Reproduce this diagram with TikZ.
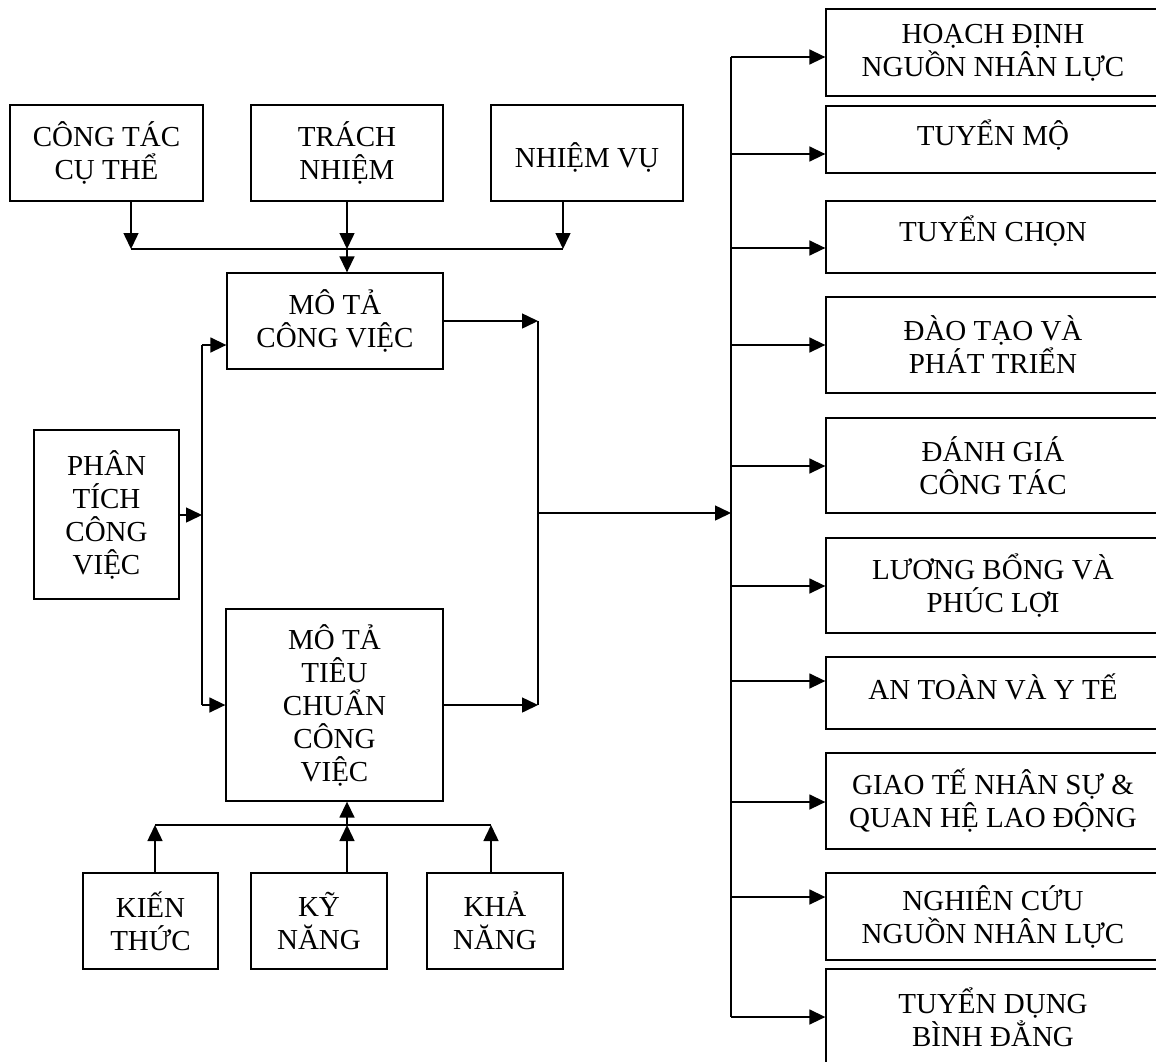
\documentclass[tikz,border=0pt]{standalone}
\usepackage{fontspec}
\setmainfont{Liberation Serif}
\usetikzlibrary{arrows.meta}
\tikzset{
  box/.style={draw, line width=1.3pt, align=center, inner sep=0pt,
    font=\fontsize{29}{33}\selectfont},
  conn/.style={line width=1.5pt},
  arr/.style={line width=1.5pt, -{Triangle[length=16pt,width=15pt]}}
}
\newcommand{\shiftup}[2]{\raisebox{#1}[\height][\depth]{#2}}
\begin{document}
\begin{tikzpicture}[x=1pt,y=-1pt]
\useasboundingbox (0,0) rectangle (1156,1061);
% top inputs
\node[box, minimum width=193pt, minimum height=96pt] (ct) at (106.5,153) {CÔNG TÁC\\CỤ THỂ};
\node[box, minimum width=192pt, minimum height=96pt] (tn) at (347,153) {TRÁCH\\NHIỆM};
\node[box, minimum width=192pt, minimum height=96pt] (nv) at (587,153) {\shiftup{-4pt}{NHIỆM VỤ}};
% middle
\node[box, minimum width=216pt, minimum height=96pt] (mt) at (335,321) {MÔ TẢ\\CÔNG VIỆC};
\node[box, minimum width=145pt, minimum height=169pt] (pt) at (106.5,514.5) {PHÂN\\TÍCH\\CÔNG\\VIỆC};
\node[box, minimum width=217pt, minimum height=192pt] (tc) at (334.5,705) {MÔ TẢ\\TIÊU\\CHUẨN\\CÔNG\\VIỆC};
% bottom inputs
\node[box, minimum width=135pt, minimum height=96pt] (kt) at (150.5,921) {KIẾN\\THỨC};
\node[box, minimum width=136pt, minimum height=96pt] (kn) at (319,921) {KỸ\\NĂNG};
\node[box, minimum width=136pt, minimum height=96pt] (kh) at (495,921) {KHẢ\\NĂNG};
% right column
\node[box, minimum width=334pt, minimum height=87pt] (r1) at (993,52.5) {HOẠCH ĐỊNH\\NGUỒN NHÂN LỰC};
\node[box, minimum width=334pt, minimum height=67pt] (r2) at (993,139.5) {\shiftup{4pt}{TUYỂN MỘ}};
\node[box, minimum width=334pt, minimum height=72pt] (r3) at (993,237) {\shiftup{6pt}{TUYỂN CHỌN}};
\node[box, minimum width=334pt, minimum height=96pt] (r4) at (993,345) {ĐÀO TẠO VÀ\\PHÁT TRIỂN};
\node[box, minimum width=334pt, minimum height=95pt] (r5) at (993,465.5) {ĐÁNH GIÁ\\CÔNG TÁC};
\node[box, minimum width=334pt, minimum height=95pt] (r6) at (993,585.5) {LƯƠNG BỔNG VÀ\\PHÚC LỢI};
\node[box, minimum width=334pt, minimum height=72pt] (r7) at (993,693) {\shiftup{6pt}{AN TOÀN VÀ Y TẾ}};
\node[box, minimum width=334pt, minimum height=96pt] (r8) at (993,801) {GIAO TẾ NHÂN SỰ \&\\QUAN HỆ LAO ĐỘNG};
\node[box, minimum width=334pt, minimum height=87pt] (r9) at (993,916.5) {NGHIÊN CỨU\\NGUỒN NHÂN LỰC};
\node[box, minimum width=334pt, minimum height=96pt] (r10) at (993,1017) {TUYỂN DỤNG\\BÌNH ĐẲNG};

% top bus
\coordinate (tb1) at (131,249);
\coordinate (tb2) at (347,249);
\coordinate (tb3) at (563,249);
\draw[arr] (ct.south -| tb1) -- (tb1);
\draw[arr] (tn.south -| tb2) -- (tb2);
\draw[arr] (nv.south -| tb3) -- (tb3);
\draw[conn] (tb1) -- (tb3);
\draw[arr] (tb2) -- (tb2 |- mt.north);

% left bus
\coordinate (lb1) at (202,345);
\coordinate (lb2) at (202,515);
\coordinate (lb3) at (202,705);
\draw[conn] (lb1) -- (lb3);
\draw[arr] (pt.east |- lb2) -- (lb2);
\draw[arr] (lb1) -- (lb1 -| mt.west);
\draw[arr] (lb3) -- (tc.west);

% bottom bus
\coordinate (bb1) at (155,825);
\coordinate (bb2) at (347,825);
\coordinate (bb3) at (491,825);
\draw[arr] (kt.north -| bb1) -- (bb1);
\draw[arr] (kn.north -| bb2) -- (bb2);
\draw[arr] (kh.north -| bb3) -- (bb3);
\draw[conn] (bb1) -- (bb3);
\draw[arr] (bb2) -- (tc.south -| bb2);

% middle right bus
\coordinate (mb1) at (538,321);
\coordinate (mb2) at (538,513);
\coordinate (mb3) at (538,705);
\draw[arr] (mt.east) -- (mb1);
\draw[arr] (tc.east) -- (mb3);
\draw[conn] (mb1) -- (mb3);
\coordinate (rb) at (731,513);
\draw[arr] (mb2) -- (rb);

% right bus
\coordinate (j1) at (731,57);
\coordinate (j2) at (731,154);
\coordinate (j3) at (731,248);
\coordinate (j4) at (731,345);
\coordinate (j5) at (731,466);
\coordinate (j6) at (731,586);
\coordinate (j7) at (731,681);
\coordinate (j8) at (731,802);
\coordinate (j9) at (731,897);
\coordinate (j10) at (731,1017);
\draw[conn] (j1) -- (j10);
\draw[arr] (j1) -- (j1 -| r1.west);
\draw[arr] (j2) -- (j2 -| r2.west);
\draw[arr] (j3) -- (j3 -| r3.west);
\draw[arr] (j4) -- (j4 -| r4.west);
\draw[arr] (j5) -- (j5 -| r5.west);
\draw[arr] (j6) -- (j6 -| r6.west);
\draw[arr] (j7) -- (j7 -| r7.west);
\draw[arr] (j8) -- (j8 -| r8.west);
\draw[arr] (j9) -- (j9 -| r9.west);
\draw[arr] (j10) -- (j10 -| r10.west);
\end{tikzpicture}
\end{document}
